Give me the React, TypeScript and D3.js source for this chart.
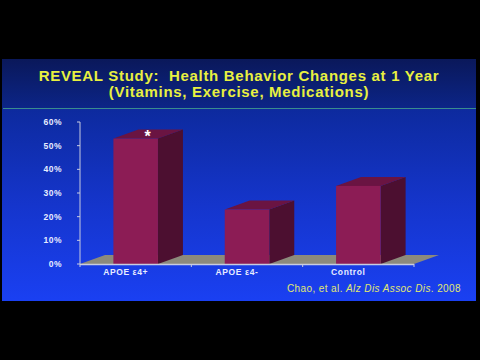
import React from "react";
import * as d3 from "d3";

const categories = ["APOE ε4+", "APOE ε4-", "Control"];
const values = [53, 23, 33];
const yTicks = [0, 10, 20, 30, 40, 50, 60];
const titleLines = [
  "REVEAL Study:  Health Behavior Changes at 1 Year",
  "(Vitamins, Exercise, Medications)",
];

export default function App() {
  const W = 480,
    H = 360;
  const x = d3.scaleBand<string>().domain(categories).range([80, 414]).padding(0);
  const y = d3.scaleLinear().domain([0, 60]).range([264, 122]);
  const dx = 25,
    dy = -9;
  const bw = x.bandwidth();
  const barW = bw * 0.4;
  const barOff = bw * 0.3;
  const y0 = y(0);

  return (
    <svg
      width={W}
      height={H}
      style={{ position: "absolute", left: 0, top: 0, display: "block" }}
      fontFamily="Liberation Sans, Arial, sans-serif"
    >
      <defs>
        <linearGradient id="bgTitle" x1="0" y1="0" x2="0" y2="1">
          <stop offset="0" stopColor="#0a185a" />
          <stop offset="1" stopColor="#0c2588" />
        </linearGradient>
        <linearGradient id="bgChart" x1="0" y1="0" x2="0" y2="1">
          <stop offset="0" stopColor="#0d2a9e" />
          <stop offset="0.5" stopColor="#1535cc" />
          <stop offset="1" stopColor="#1a40f2" />
        </linearGradient>
      </defs>
      <rect x={0} y={0} width={W} height={H} fill="#000" />
      <rect x={2} y={59} width={474} height={50} fill="url(#bgTitle)" />
      <rect x={2} y={109} width={474} height={192} fill="url(#bgChart)" />
      <line x1={3} x2={476} y1={108.5} y2={108.5} stroke="#3a8c8c" strokeWidth={1} />

      {titleLines.map((t, i) => (
        <text
          key={i}
          x={239}
          y={81 + i * 16}
          textAnchor="middle"
          fill="#e8f040"
          fontSize={15}
          fontWeight="bold"
          letterSpacing={0.7}
          style={{ whiteSpace: "pre" }}
        >
          {t}
        </text>
      ))}

      {/* floor */}
      <polygon
        points={`80,${y0} 414,${y0} ${414 + dx},${y0 + dy} ${80 + dx},${y0 + dy}`}
        fill="#8c8a7c"
      />

      {/* y axis */}
      <line x1={80} x2={80} y1={y(60)} y2={y0} stroke="#c8cce0" strokeWidth={1} />
      {yTicks.map((t) => (
        <g key={t}>
          <line x1={77} x2={80} y1={y(t)} y2={y(t)} stroke="#c8cce0" />
          <text
            x={62}
            y={y(t) + 3}
            textAnchor="end"
            fill="#e8ecff"
            fontSize={8.5}
            fontWeight="bold"
            letterSpacing={0.5}
          >
            {t}%
          </text>
        </g>
      ))}

      {/* bars */}
      {categories.map((c, i) => {
        const x0 = (x(c) as number) + barOff;
        const x1 = x0 + barW;
        const yt = y(values[i]);
        return (
          <g key={c}>
            <polygon
              points={`${x1},${yt} ${x1 + dx},${yt + dy} ${x1 + dx},${y0 + dy} ${x1},${y0}`}
              fill="#4c0f30"
            />
            <polygon
              points={`${x0},${yt} ${x1},${yt} ${x1 + dx},${yt + dy} ${x0 + dx},${yt + dy}`}
              fill="#6a1442"
            />
            <rect x={x0} y={yt} width={barW} height={y0 - yt} fill="#8c1c55" />
          </g>
        );
      })}

      {/* x axis line */}
      <line x1={80} x2={414} y1={y0 + 0.5} y2={y0 + 0.5} stroke="#c8cce0" strokeWidth={1.5} />
      {[0, 1, 2, 3].map((i) => (
        <line
          key={i}
          x1={80 + i * bw}
          x2={80 + i * bw}
          y1={y0}
          y2={y0 + 3}
          stroke="#c8cce0"
        />
      ))}
      {categories.map((c) => (
        <text
          key={c}
          x={(x(c) as number) + bw / 2 - 10}
          y={y0 + 11}
          textAnchor="middle"
          fill="#e8ecff"
          fontSize={8.5}
          fontWeight="bold"
          letterSpacing={0.6}
        >
          {c}
        </text>
      ))}

      {/* asterisk */}
      <text
        x={(x(categories[0]) as number) + barOff + barW / 2 + 12}
        y={y(values[0]) + 3}
        textAnchor="middle"
        fill="#ffffff"
        fontSize={16}
        fontWeight="bold"
      >
        *
      </text>

      <text
        x={461}
        y={292}
        textAnchor="end"
        fill="#e0e870"
        fontSize={10}
        letterSpacing={0.4}
      >
        Chao, et al.{" "}
        <tspan fontStyle="italic">Alz Dis Assoc Dis</tspan>. 2008
      </text>
    </svg>
  );
}
